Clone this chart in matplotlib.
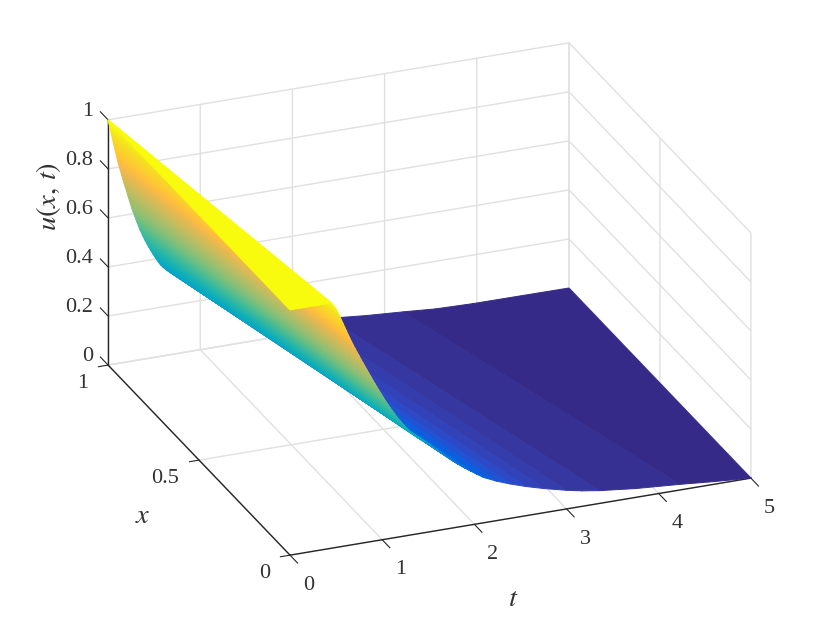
#!/usr/bin/env python3
# -*- coding: utf-8 -*-
"""u(x,t) surface, 3D view in MATLAB style"""

import numpy as np
import matplotlib
matplotlib.use('Agg')
import matplotlib.pyplot as plt
from matplotlib.colors import ListedColormap
from matplotlib.transforms import ScaledTranslation

plt.rcParams['font.family'] = ['Liberation Serif', 'DejaVu Serif']
plt.rcParams['mathtext.fontset'] = 'stix'

# colour level of every contour, first one repeated for the flat top part
c_level = [1.000, 1.000, 0.984, 0.969, 0.953, 0.938, 0.922, 0.906, 0.891, 0.875, 0.859,
           0.844, 0.828, 0.812, 0.797, 0.781, 0.766, 0.750, 0.734, 0.719, 0.703,
           0.688, 0.672, 0.656, 0.641, 0.625, 0.609, 0.594, 0.578, 0.562, 0.547,
           0.531, 0.516, 0.500, 0.484, 0.469, 0.453, 0.438, 0.422, 0.406, 0.391,
           0.375, 0.359, 0.344, 0.328, 0.312, 0.297, 0.281, 0.266, 0.250, 0.234,
           0.219, 0.203, 0.188, 0.172, 0.156, 0.141, 0.125, 0.109, 0.094, 0.078,
           0.062, 0.047, 0.039, 0.031, 0.024, 0.016, 0.008, 0.000, 0.000]

# x=1 edge: t and u at each contour
t_far = [0.000, 0.000, 0.009, 0.018, 0.028, 0.037, 0.046, 0.055, 0.064, 0.074, 0.084,
         0.093, 0.103, 0.113, 0.124, 0.136, 0.147, 0.158, 0.170, 0.182, 0.195,
         0.207, 0.219, 0.231, 0.243, 0.256, 0.270, 0.284, 0.299, 0.314, 0.329,
         0.345, 0.362, 0.380, 0.400, 0.420, 0.441, 0.463, 0.487, 0.512, 0.537,
         0.565, 0.595, 0.628, 0.665, 0.705, 0.750, 0.800, 0.850, 0.900, 0.950,
         1.000, 1.050, 1.100, 1.170, 1.240, 1.310, 1.380, 1.500, 1.630, 1.780,
         1.950, 2.150, 2.260, 2.400, 2.800, 3.200, 3.550, 3.950, 5.000]
u_far = [1.000, 1.000, 0.984, 0.969, 0.953, 0.938, 0.922, 0.906, 0.891, 0.875, 0.859,
         0.844, 0.828, 0.812, 0.797, 0.781, 0.766, 0.750, 0.734, 0.719, 0.703,
         0.688, 0.672, 0.656, 0.641, 0.625, 0.609, 0.594, 0.578, 0.562, 0.547,
         0.531, 0.516, 0.500, 0.484, 0.469, 0.453, 0.438, 0.422, 0.406, 0.391,
         0.375, 0.362, 0.350, 0.338, 0.326, 0.312, 0.297, 0.281, 0.266, 0.250,
         0.235, 0.219, 0.205, 0.188, 0.170, 0.152, 0.135, 0.110, 0.092, 0.075,
         0.062, 0.052, 0.047, 0.040, 0.026, 0.016, 0.006, 0.002, 0.000]

# x=0 edge: t and u at each contour
t_near = [0.000, 0.450, 0.480, 0.505, 0.525, 0.542, 0.560, 0.578, 0.595, 0.613, 0.631,
          0.649, 0.668, 0.688, 0.708, 0.729, 0.749, 0.770, 0.792, 0.813, 0.835,
          0.856, 0.878, 0.900, 0.922, 0.945, 0.968, 0.991, 1.015, 1.040, 1.064,
          1.090, 1.116, 1.143, 1.172, 1.203, 1.236, 1.268, 1.303, 1.345, 1.390,
          1.430, 1.470, 1.500, 1.520, 1.545, 1.570, 1.600, 1.630, 1.660, 1.690,
          1.720, 1.770, 1.830, 1.900, 1.970, 2.030, 2.100, 2.240, 2.390, 2.560,
          2.760, 3.000, 3.170, 3.360, 3.750, 4.230, 4.600, 5.000, 5.000]
u_near = [1.000, 1.000, 0.984, 0.969, 0.953, 0.938, 0.922, 0.906, 0.891, 0.875, 0.859,
          0.844, 0.828, 0.812, 0.797, 0.781, 0.766, 0.750, 0.734, 0.719, 0.703,
          0.688, 0.672, 0.656, 0.641, 0.625, 0.609, 0.594, 0.578, 0.562, 0.547,
          0.531, 0.516, 0.500, 0.484, 0.469, 0.453, 0.438, 0.422, 0.406, 0.390,
          0.378, 0.370, 0.360, 0.354, 0.346, 0.338, 0.328, 0.318, 0.308, 0.298,
          0.288, 0.272, 0.254, 0.235, 0.217, 0.202, 0.185, 0.161, 0.140, 0.119,
          0.098, 0.076, 0.063, 0.052, 0.036, 0.023, 0.011, 0.000, 0.000]

t_ticks = [0, 1, 2, 3, 4, 5]
x_ticks = [0, 0.5, 1]
x_tick_labels = ['0', '0.5', '1']
u_ticks = [0, 0.2, 0.4, 0.6, 0.8, 1]
u_tick_labels = ['0', '0.2', '0.4', '0.6', '0.8', '1']

# parula(64)
parula = ListedColormap([
    [0.2081, 0.1663, 0.5292], [0.2116, 0.1898, 0.5777], [0.2123, 0.2138, 0.6270], [0.2081, 0.2386, 0.6771],
    [0.1959, 0.2645, 0.7279], [0.1707, 0.2919, 0.7792], [0.1253, 0.3242, 0.8303], [0.0591, 0.3598, 0.8683],
    [0.0117, 0.3875, 0.8820], [0.0060, 0.4086, 0.8828], [0.0165, 0.4266, 0.8786], [0.0329, 0.4430, 0.8720],
    [0.0498, 0.4586, 0.8641], [0.0629, 0.4737, 0.8554], [0.0723, 0.4887, 0.8467], [0.0779, 0.5040, 0.8384],
    [0.0793, 0.5200, 0.8312], [0.0749, 0.5375, 0.8263], [0.0641, 0.5570, 0.8240], [0.0488, 0.5772, 0.8228],
    [0.0343, 0.5966, 0.8199], [0.0265, 0.6137, 0.8135], [0.0239, 0.6287, 0.8038], [0.0231, 0.6418, 0.7913],
    [0.0228, 0.6535, 0.7768], [0.0267, 0.6642, 0.7607], [0.0384, 0.6743, 0.7436], [0.0590, 0.6838, 0.7254],
    [0.0843, 0.6928, 0.7062], [0.1133, 0.7015, 0.6859], [0.1453, 0.7098, 0.6646], [0.1801, 0.7177, 0.6424],
    [0.2178, 0.7250, 0.6193], [0.2586, 0.7317, 0.5954], [0.3022, 0.7376, 0.5712], [0.3482, 0.7424, 0.5473],
    [0.3953, 0.7459, 0.5244], [0.4420, 0.7481, 0.5033], [0.4871, 0.7491, 0.4840], [0.5300, 0.7491, 0.4661],
    [0.5709, 0.7485, 0.4494], [0.6099, 0.7473, 0.4337], [0.6473, 0.7456, 0.4188], [0.6834, 0.7435, 0.4044],
    [0.7184, 0.7411, 0.3905], [0.7525, 0.7384, 0.3768], [0.7858, 0.7356, 0.3633], [0.8185, 0.7327, 0.3498],
    [0.8507, 0.7299, 0.3360], [0.8824, 0.7274, 0.3217], [0.9139, 0.7258, 0.3063], [0.9450, 0.7261, 0.2886],
    [0.9739, 0.7314, 0.2666], [0.9938, 0.7455, 0.2403], [0.9990, 0.7653, 0.2164], [0.9955, 0.7861, 0.1967],
    [0.9880, 0.8066, 0.1794], [0.9789, 0.8271, 0.1633], [0.9697, 0.8481, 0.1475], [0.9626, 0.8705, 0.1309],
    [0.9589, 0.8949, 0.1132], [0.9598, 0.9218, 0.0948], [0.9661, 0.9514, 0.0755], [0.9763, 0.9831, 0.0538],
])

GRID = '#e0e0e0'
DARK = '#262626'
TEXT = '#333333'

fig = plt.figure(figsize=(8.3, 6.23), dpi=100)
ax = fig.add_axes([0.0683, -0.0783, 0.8747, 1.1653], projection='3d')
ax.set_proj_type('ortho')
ax.view_init(elev=24.7, azim=-111.8)
ax.set_box_aspect((496.5, 490, 270))


def shift(text, dx, dy):
    """テキストをピクセル単位でずらす (Axis3D.drawがtransformを戻すので描画直前に設定)"""
    trans = ax.transData + ScaledTranslation(dx / 100, dy / 100, fig.dpi_scale_trans)
    orig_draw = text.draw

    def draw(renderer):
        text._transform = trans
        orig_draw(renderer)
    text.draw = draw


# surface: two columns, one per x edge, one flat colour per strip
n = len(c_level)
T = np.column_stack([t_near, t_far])
X = np.column_stack([np.zeros(n), np.ones(n)])
U = np.column_stack([u_near, u_far])
c_mid = (np.array(c_level) + np.roll(c_level, -1)) / 2
strip_colors = np.repeat(parula(c_mid)[:, None, :], 2, axis=1)
ax.plot_surface(T, X, U, rstride=1, cstride=1, facecolors=strip_colors,
                shade=False, linewidth=0.7)

ax.set_xlim(0, 5)
ax.set_ylim(0, 1)
ax.set_zlim(0, 1)
ax.set_xticks(t_ticks)
ax.set_xticklabels([str(v) for v in t_ticks], fontsize=16, color=TEXT)
ax.set_yticks(x_ticks)
ax.set_yticklabels(x_tick_labels, fontsize=16, color=TEXT, ha='right')
ax.set_zticks(u_ticks)
ax.set_zticklabels(u_tick_labels, fontsize=16, color=TEXT, ha='right')

for axis in (ax.xaxis, ax.yaxis, ax.zaxis):
    axis.set_pane_color((1, 1, 1, 0))
    axis.pane.set_edgecolor(GRID)
    axis.line.set_color(DARK)
    axis.line.set_linewidth(1.0)
    axis._axinfo['grid'].update(color=GRID, linewidth=1.0)
    axis.set_tick_params(color=DARK, width=1.0, pad=4)

# ticks point out of the box: t and x through inward_factor, u along +x
ax.xaxis._axinfo['tick'].update(inward_factor=0.52, outward_factor=0.0)
ax.yaxis._axinfo['tick'].update(inward_factor=0.26, outward_factor=0.0)
ax.zaxis._axinfo['tick'].update(inward_factor=0.0, outward_factor=0.53)
ax.zaxis._get_tickdir = lambda pos: 1

ax.set_xlabel('$t$', fontsize=20.5, labelpad=10, color=TEXT)
ax.set_ylabel('$x$', fontsize=20.5, labelpad=10, color=TEXT)
ax.zaxis.set_rotate_label(False)
ax.set_zlabel(r'$u(x,\,t)$', fontsize=20.5, labelpad=10, rotation=90, color=TEXT)

for lab in ax.xaxis.get_ticklabels():
    shift(lab, 10.5, -1.5)
for lab in ax.yaxis.get_ticklabels():
    shift(lab, 0.5, 5)
for lab in ax.zaxis.get_ticklabels():
    shift(lab, 13, 13)
shift(ax.xaxis.label, -28, -33)
shift(ax.yaxis.label, -4, -20)
shift(ax.zaxis.label, 14, 33)

fig.savefig('out.png', dpi=100)
